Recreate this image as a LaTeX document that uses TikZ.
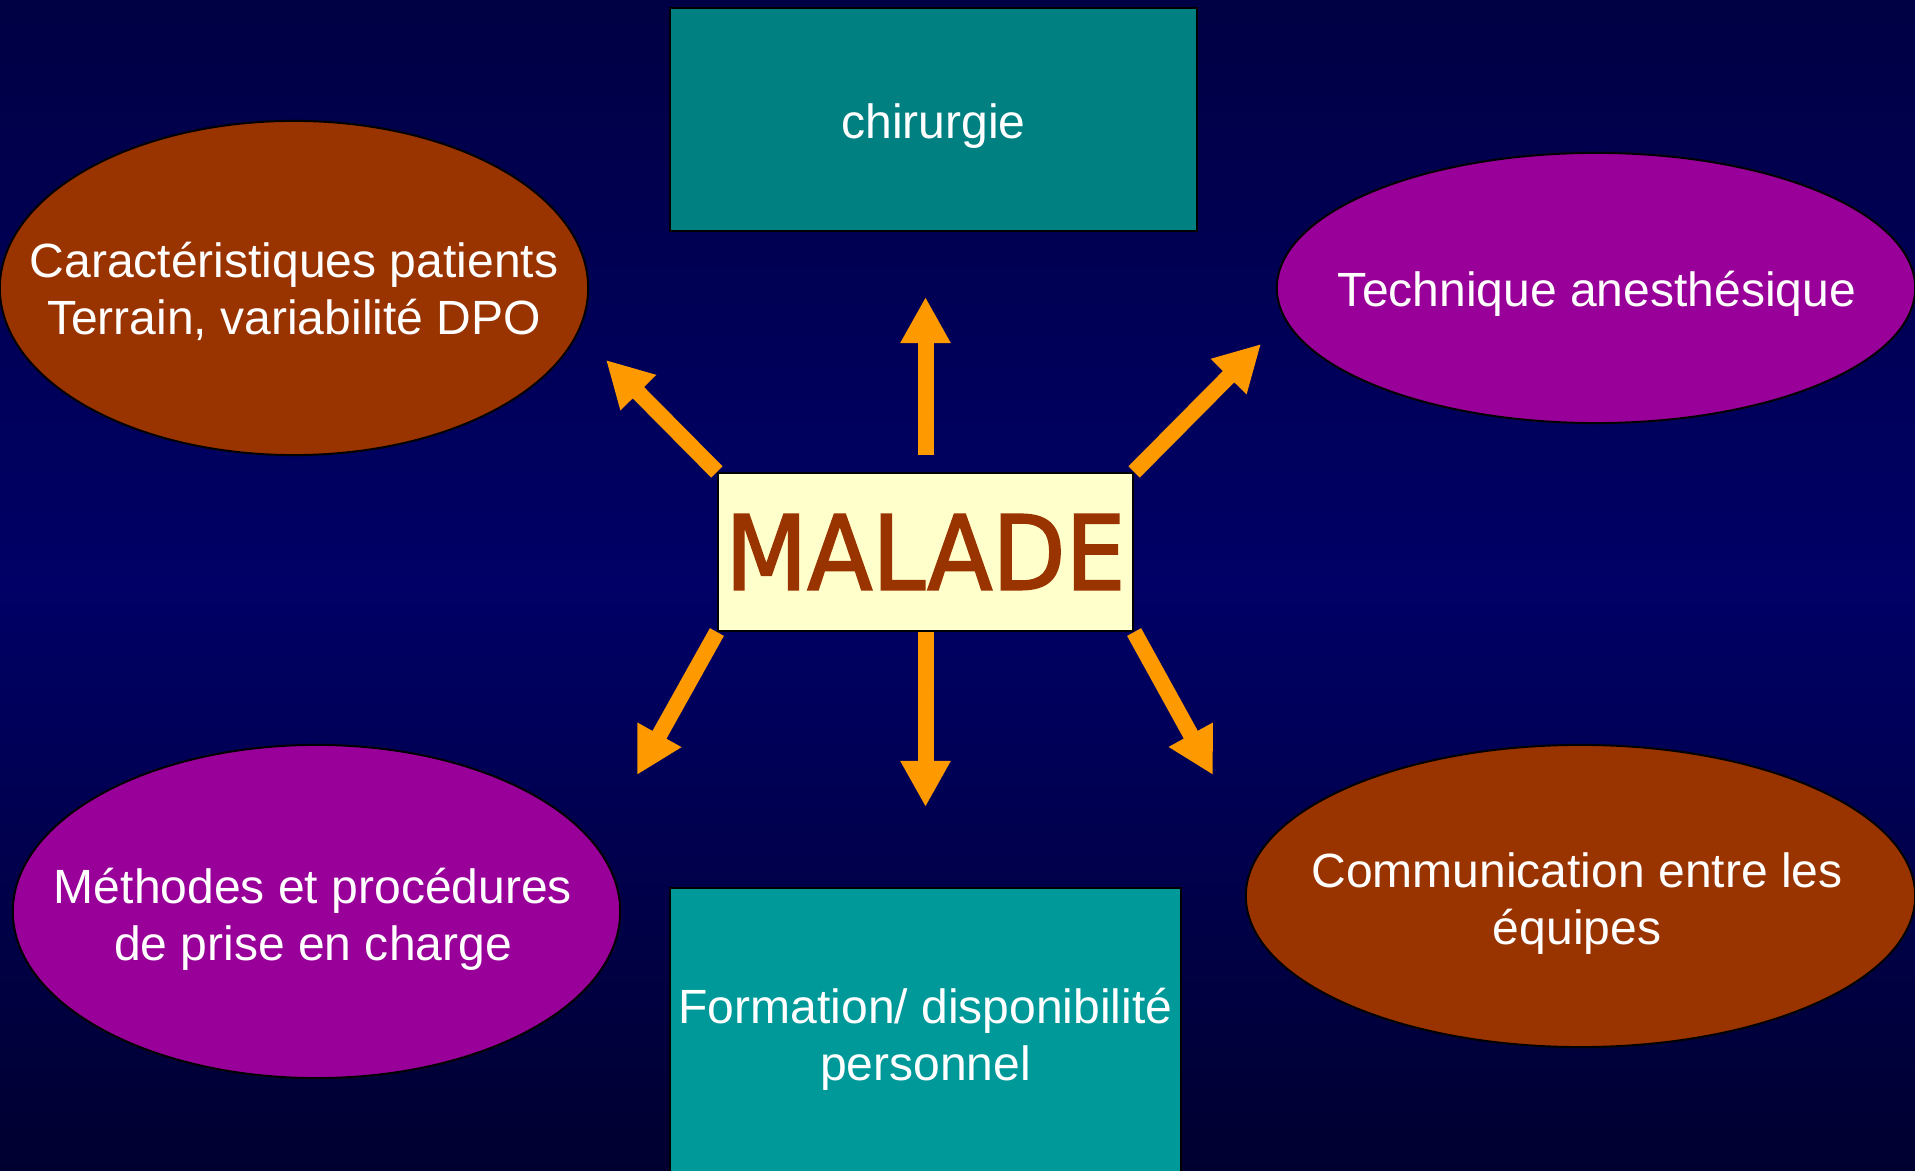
\documentclass[tikz,border=0pt]{standalone}
\usepackage{fontspec}
\setmainfont{Liberation Sans}
\newfontfamily\malfont[FakeBold=2]{DejaVu Sans}
\usetikzlibrary{shapes.geometric,arrows.meta,backgrounds}
\definecolor{bgtop}{RGB}{0,0,68}
\definecolor{bgmid}{RGB}{0,0,102}
\definecolor{bgbot}{RGB}{0,0,48}
\definecolor{tealA}{RGB}{0,128,128}
\definecolor{tealB}{RGB}{0,153,153}
\definecolor{brownc}{RGB}{153,51,0}
\definecolor{purplec}{RGB}{153,0,153}
\definecolor{creamc}{RGB}{255,255,204}
\definecolor{orangec}{RGB}{255,153,0}
\begin{document}
\begin{tikzpicture}[x=0.01cm,y=-0.01cm,
  box/.style={draw=black, line width=0.02cm, rectangle, inner sep=0pt},
  ell/.style={draw=black, line width=0.02cm, ellipse, inner sep=0pt},
  txt/.style={text=white, align=center, inner sep=0pt, font=\fontsize{13.66pt}{16.22pt}\selectfont},
  arr/.style={draw=orangec, line width=0.16cm, -{Triangle[length=0.46cm,width=0.47cm]}}]
\useasboundingbox (0,0) rectangle (1915,1171);
\clip (0,0) rectangle (1915,1171);
% boxes
\node[box, fill=tealA, minimum width=5.27cm, minimum height=2.23cm] (chir) at (933.5,119.5) {};
\node[txt] (chirt) at (933.5,126) {chirurgie};
\node[box, fill=tealB, minimum width=5.11cm, minimum height=3.02cm] (form) at (925.5,1039) {};
\node[txt] (formt) at (form) {Formation/ disponibilit\'e\\personnel};
\node[box, fill=creamc, minimum width=4.15cm, minimum height=1.58cm] (mal) at (925.5,552)
  {\textcolor{brownc}{\resizebox{4cm}{0.75cm}{\malfont MALADE}}};
% ellipses
\node[ell, fill=brownc, minimum width=5.88cm, minimum height=3.34cm] (car) at (294,288) {};
\node[txt] (cart) at (294,291) {Caract\'eristiques patients\\Terrain, variabilit\'e DPO};
\node[ell, fill=purplec, minimum width=6.38cm, minimum height=2.70cm] (tech) at (1596,288) {};
\node[txt] (techt) at (1597,294) {Technique anesth\'esique};
\node[ell, fill=purplec, minimum width=6.07cm, minimum height=3.33cm] (meth) at (316.5,911.5) {};
\node[txt] (metht) at (313,919) {M\'ethodes et proc\'edures\\de prise en charge};
\node[ell, fill=brownc, minimum width=6.69cm, minimum height=3.02cm] (comm) at (1580.5,896) {};
\node[txt] (commt) at (1577,904) {Communication entre les\\\'equipes};
% arrow ends
\coordinate (tU) at (925.5,297);
\coordinate (tD) at (925.5,807);
\coordinate (tUL) at (606,360);
\coordinate (tUR) at (1261,344);
\coordinate (tDL) at (637,775);
\coordinate (tDR) at (1213,775);
\begin{scope}[on background layer]
\shade[top color=bgtop, bottom color=bgbot, middle color=bgmid] (0,0) rectangle (1915,1171);
\draw[arr, shorten <=0.17cm] (mal.north) -- (tU);
\draw[arr] (mal.south) -- (tD);
\draw[arr] (mal.north west) -- (tUL);
\draw[arr] (mal.north east) -- (tUR);
\draw[arr] (mal.south west) -- (tDL);
\draw[arr] (mal.south east) -- (tDR);
\end{scope}
\end{tikzpicture}
\end{document}
